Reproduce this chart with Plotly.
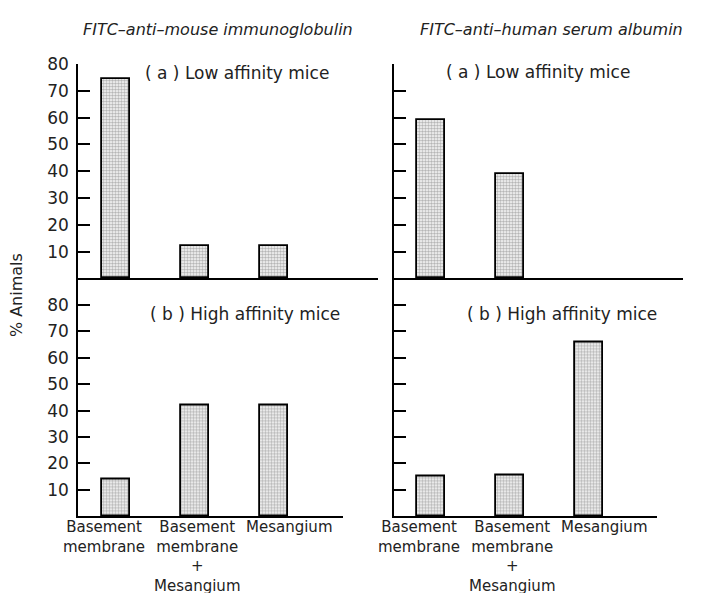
import plotly.graph_objects as go

# ---- data ----
categories = ["Basement<br>membrane", "Basement<br>membrane<br>+<br>Mesangium", "Mesangium"]
x_pos = [0, 1, 2]
left_low = [74.5, 12, 12]      # FITC-anti-mouse immunoglobulin, low affinity
left_high = [14, 42, 42]       # FITC-anti-mouse immunoglobulin, high affinity
right_low = [59, 39, None]     # FITC-anti-human serum albumin, low affinity
right_high = [15, 15.5, 66]    # FITC-anti-human serum albumin, high affinity
ytick_vals = [10, 20, 30, 40, 50, 60, 70, 80]
ytick_text = [str(v) for v in ytick_vals]

W, H = 703, 593
def px(x): return x / W
def py(y): return 1 - y / H

FONT = "DejaVu Sans"
TXT = "#222222"

fig = go.Figure()

def bar(vals, xa, ya):
    return go.Bar(
        x=x_pos, y=vals, width=0.35, xaxis=xa, yaxis=ya, showlegend=False,
        marker=dict(color="white", line=dict(color="black", width=1.8),
                    pattern=dict(shape=".", fgcolor="#6a6a6a", bgcolor="white",
                                 size=3, solidity=0.6)),
    )

fig.add_trace(bar(left_low, "x", "y"))
fig.add_trace(bar(right_low, "x2", "y2"))
fig.add_trace(bar(left_high, "x3", "y3"))
fig.add_trace(bar(right_high, "x4", "y4"))

unit = 79.0  # px per category step
def xax(left_px, right_px, first_px, anchor):
    lo = (left_px - first_px) / unit
    hi = (right_px - first_px) / unit
    return dict(domain=[px(left_px), px(right_px)], range=[lo, hi], anchor=anchor,
                showline=True, linecolor="black", linewidth=1.6, showgrid=False,
                zeroline=False, showticklabels=False, ticks="", fixedrange=True)

def yax(top_px, bot_px, rng, anchor, labels):
    return dict(domain=[py(bot_px), py(top_px)], range=rng, anchor=anchor,
                showline=True, linecolor="black", linewidth=1.6, showgrid=False,
                zeroline=False, tickmode="array", tickvals=ytick_vals,
                ticktext=ytick_text, showticklabels=labels, ticks="inside",
                ticklen=12, tickwidth=1.5, tickcolor="black",
                tickfont=dict(family=FONT, size=17, color=TXT), ticklabelstandoff=4)

bottom_top = 80 * (515 - 273) / (515 - 300)

fig.update_layout(
    width=W, height=H, margin=dict(l=0, r=0, t=0, b=0),
    paper_bgcolor="white", plot_bgcolor="rgba(0,0,0,0)",
    xaxis=xax(78, 378, 116, "y"),
    yaxis=yax(55, 273, [0, 80], "x", True),
    xaxis2=xax(394, 683, 431, "y2"),
    yaxis2=yax(55, 273, [0, 80], "x2", False),
    xaxis3=xax(78, 343, 116, "y3"),
    yaxis3=yax(273, 515, [0, bottom_top], "x3", True),
    xaxis4=xax(394, 657, 431, "y4"),
    yaxis4=yax(273, 515, [0, bottom_top], "x4", False),
    bargap=0,
)

def pann(text, cx, cy, size, **kw):
    d = dict(text=text, x=px(cx), y=py(cy), xref="paper", yref="paper",
             xanchor="center", yanchor="middle", showarrow=False,
             font=dict(family=FONT, size=size, color=TXT))
    d.update(kw)
    return d

ann = []
# column titles
ann.append(pann("<i>FITC–anti–mouse immunoglobulin</i>", 218, 20, 16))
ann.append(pann("<i>FITC–anti–human serum albumin</i>", 551, 20, 16))
# panel labels
ann.append(pann("( a ) Low affinity mice", 237, 64, 17))
ann.append(pann("( a ) Low affinity mice", 538, 63, 17))
ann.append(pann("( b ) High affinity mice", 245, 309, 17))
ann.append(pann("( b ) High affinity mice", 562, 309, 17))
# y title
ann.append(pann("% Animals", 16, 290, 16, textangle=-90))
# category labels
shifts = [-12, 2, 15]
for xa in ["x3", "x4"]:
    for xp, cat, sh in zip(x_pos, categories, shifts):
        ann.append(dict(text=cat, x=xp, y=py(515), xref=xa, yref="paper",
                        xanchor="center", yanchor="top", xshift=sh, showarrow=False,
                        align="center",
                        font=dict(family=FONT, size=15, color=TXT)))
fig.update_layout(annotations=ann)

fig.write_html("out.html")
